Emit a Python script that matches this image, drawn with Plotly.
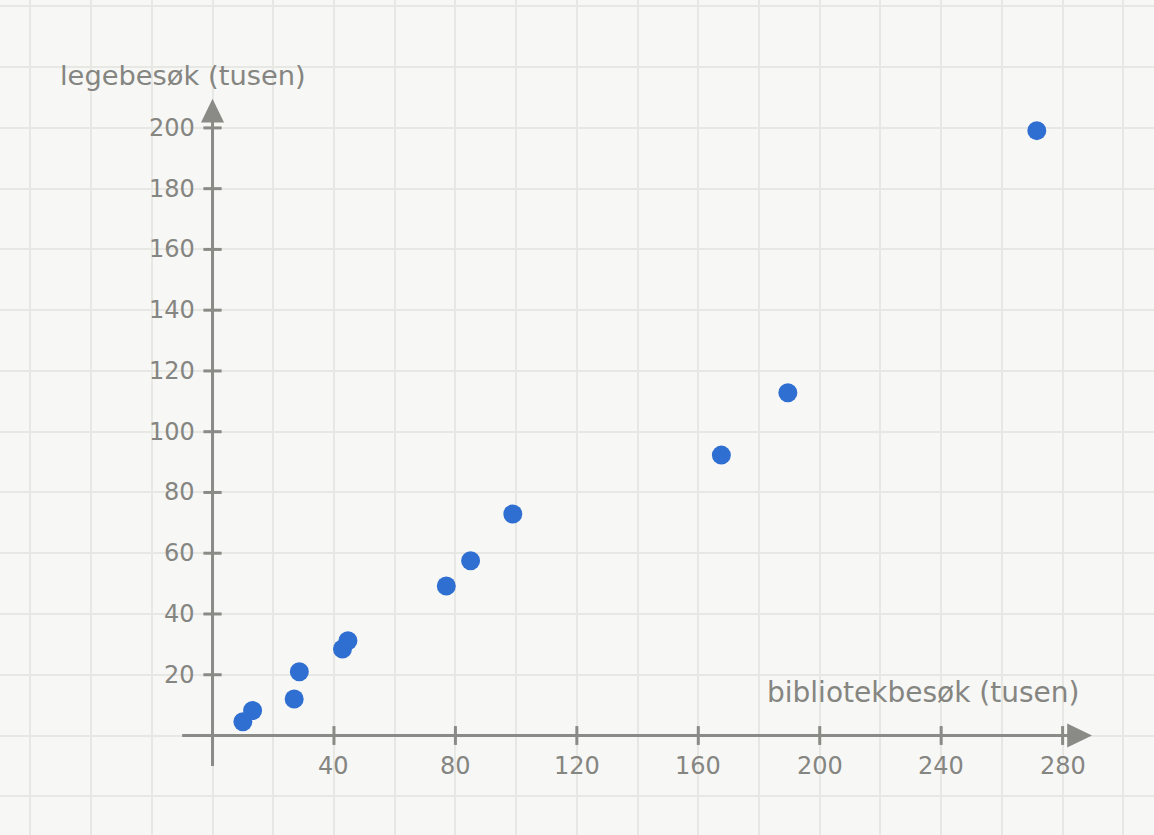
import plotly.graph_objects as go

# Data (thousands)
library_visits = [10.0, 13.2, 26.9, 28.6, 42.8, 44.6, 77.0, 85.0, 98.9, 167.6, 189.5, 271.5]
doctor_visits = [4.5, 8.2, 12.0, 21.0, 28.5, 31.2, 49.2, 57.5, 72.9, 92.3, 112.8, 199.1]

x_ticks = [40, 80, 120, 160, 200, 240, 280]
y_ticks = [20, 40, 60, 80, 100, 120, 140, 160, 180, 200]
x_title = "bibliotekbesøk (tusen)"
y_title = "legebesøk (tusen)"

AX = "#8a8a86"
TXT = "#858581"
BG = "#f7f7f5"
GRID = "#e7e7e3"
DOT = "#2f6fd1"
FONT = "'DejaVu Sans', sans-serif"

fig = go.Figure()
fig.add_trace(go.Scatter(
    x=library_visits, y=doctor_visits, mode="markers",
    marker=dict(size=19, color=DOT, line=dict(width=0)),
    hoverinfo="x+y", showlegend=False,
))

shapes = []
# axis lines
shapes.append(dict(type="line", x0=-10, x1=282, y0=0, y1=0, line=dict(color=AX, width=3), layer="between"))
shapes.append(dict(type="line", x0=0, x1=0, y0=-10, y1=202, line=dict(color=AX, width=3), layer="between"))
# arrowheads
shapes.append(dict(type="path", path="M 281.5,-3.95 L 281.5,3.95 L 289.7,0 Z",
                   fillcolor=AX, line=dict(color=AX, width=0), layer="between"))
shapes.append(dict(type="path", path="M -3.8,201.8 L 3.8,201.8 L 0,209.6 Z",
                   fillcolor=AX, line=dict(color=AX, width=0), layer="between"))
# tick marks
for t in x_ticks:
    shapes.append(dict(type="line", x0=t, x1=t, y0=-3.1, y1=3.1, line=dict(color=AX, width=3), layer="between"))
for t in y_ticks:
    shapes.append(dict(type="line", x0=-3.0, x1=3.0, y0=t, y1=t, line=dict(color=AX, width=3), layer="between"))

annotations = []
for t in x_ticks:
    annotations.append(dict(x=t, y=-10.2, text=str(t), showarrow=False, xanchor="center", yanchor="middle",
                            font=dict(family=FONT, size=24, color=TXT)))
for t in y_ticks:
    annotations.append(dict(x=-5.0, y=t, text=str(t), showarrow=False, xanchor="right", yanchor="middle",
                            font=dict(family=FONT, size=24, color=TXT)))
annotations.append(dict(x=286.0, y=14.0, text=x_title, showarrow=False, xanchor="right", yanchor="middle",
                        font=dict(family=FONT, size=28, color=TXT)))
annotations.append(dict(x=-9.7, y=217.1, text=y_title, showarrow=False, xanchor="center", yanchor="middle",
                        font=dict(family=FONT, size=27.3, color=TXT)))

fig.update_layout(
    width=1154, height=835,
    margin=dict(l=0, r=0, t=0, b=0, pad=0),
    paper_bgcolor=BG, plot_bgcolor=BG,
    shapes=shapes, annotations=annotations,
    xaxis=dict(range=[-70.0, 310.1], tick0=0, dtick=20, showticklabels=False, ticks="",
               showgrid=True, gridcolor=GRID, gridwidth=2, zeroline=False, showline=False, fixedrange=True),
    yaxis=dict(range=[-32.75, 242.1], tick0=0, dtick=20, showticklabels=False, ticks="",
               showgrid=True, gridcolor=GRID, gridwidth=2, zeroline=False, showline=False, fixedrange=True),
)

fig.write_html("out.html", config={"displayModeBar": False},
               post_script="document.body.style.margin='0';document.body.style.background='" + BG + "';")
